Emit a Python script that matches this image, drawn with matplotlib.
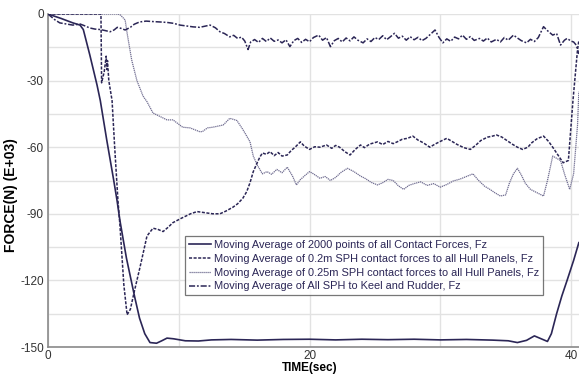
import matplotlib
matplotlib.use("Agg")
import matplotlib.pyplot as plt

plt.rcParams['font.family'] = ['Liberation Sans', 'DejaVu Sans']
plt.rcParams['axes.unicode_minus'] = False

# ---- data (time in sec, force in kN) ----
t_all = [0, 1.0, 1.9, 2.45, 2.7, 3.2, 3.75, 4.0, 4.5, 5.0, 5.28, 5.5, 6.0, 6.65, 7.0, 7.4, 7.8,
         8.3, 8.7, 9.1, 9.6, 10.5, 11.5, 12.5, 14, 16, 18, 20, 22, 24, 26, 28, 30, 32, 34,
         35.2, 35.9, 36.6, 37.2, 37.8, 38.2, 38.5, 38.9, 39.3, 39.7, 40.2, 40.6]
f_all = [0, -2, -4, -5, -7, -18.5, -32, -39, -57, -74, -84, -93, -110, -128, -137, -144, -148,
         -148.3, -147.2, -146, -146.3, -147.2, -147.3, -146.8, -146.6, -146.9, -146.6, -146.5,
         -146.8, -146.5, -146.7, -146.5, -146.8, -146.6, -146.9,
         -147.2, -148, -147, -145, -146.5, -147.5, -144, -135, -127, -120, -111, -103]

t_02 = [0, 4.05, 4.1, 4.3, 4.45, 4.5, 4.55, 4.65, 4.9, 5.1, 5.35, 5.5, 5.8, 6.05, 6.3, 6.6, 7.04,
        7.57, 8.03, 8.4, 8.8, 9.2, 9.55, 10.2, 10.9, 11.4, 12.0, 12.6, 13.15, 13.6, 14.15, 14.5,
        14.9, 15.2, 15.45, 15.7, 16.0, 16.2, 16.4, 16.7, 16.98, 17.3, 17.6, 17.9, 18.3, 18.6,
        18.9, 19.3, 19.6, 20.0, 20.4, 20.8, 21.3, 21.7, 22.0, 22.3, 22.7, 23.1, 23.5, 23.9,
        24.2, 24.6, 25.2, 25.6, 26.0, 26.4, 26.7, 27.1, 27.5, 27.9, 28.3, 28.7, 29.2, 29.6,
        30.0, 30.5, 30.9, 31.3, 31.8, 32.3, 32.7, 33.1, 33.6, 34.0, 34.3, 34.7, 35.1, 35.5,
        35.9, 36.3, 36.7, 37.0, 37.4, 37.9, 38.3, 38.6, 39.0, 39.4, 39.8, 40.15, 40.5, 40.6]
f_02 = [0, 0, -31, -26, -19, -25, -21, -30, -39, -60, -84, -95, -122, -135.5, -133, -125, -114,
        -100, -96.5, -97, -98, -96, -94, -92, -90, -89, -89.5, -90, -90, -88.8, -87, -85.5,
        -83, -80, -76, -71, -67, -64.5, -62.6, -63.2, -62, -63.8, -62.4, -64, -63.5, -61.5,
        -60, -57.6, -59.5, -61, -59.8, -60, -59, -60.5, -59.2, -60, -62, -63.5, -61, -59,
        -60.2, -58.6, -57.6, -58.8, -57.4, -58.4, -57.6, -56.4, -56, -55, -56.8, -58, -60, -58.6,
        -57.4, -56, -57.4, -58.8, -60.2, -61, -59.2, -57, -55.5, -55, -54.5, -55.4, -57, -58.6,
        -60, -61, -60, -58, -56.2, -55, -57.5, -60, -63.5, -67, -66, -39, -16, -12]

t_025 = [0, 5.35, 5.55, 5.9, 6.05, 6.4, 6.8, 7.27, 7.57, 8.03, 8.34, 9.1, 9.56, 10.3, 10.86,
         11.6, 11.8, 12.2, 12.6, 13.0, 13.4, 13.9, 14.2, 14.45, 14.9, 15.2, 15.45, 15.7, 16.0,
         16.2, 16.4, 16.75, 17.1, 17.5, 17.9, 18.3, 18.7, 19.0, 19.3, 19.7, 20.0, 20.3, 20.8,
         21.2, 21.6, 22.0, 22.4, 22.9, 23.4, 23.9, 24.3, 24.7, 25.2, 25.6, 26.0, 26.4, 26.8,
         27.2, 27.6, 28.0, 28.5, 29.0, 29.5, 30.0, 30.5, 31.0, 31.5, 32.0, 32.5, 32.9, 33.4,
         33.8, 34.2, 34.6, 35.0, 35.3, 35.6, 35.9, 36.2, 36.5, 36.9, 37.4, 37.9, 38.2, 38.6,
         38.9, 39.2, 39.5, 39.9, 40.2, 40.5, 40.6]
f_025 = [0, 0, -0.5, -2.7, -8.6, -20.7, -30, -37, -39.5, -44.6, -45.5, -47.7, -47.7, -51, -51.3,
         -53, -53, -51.3, -51, -50.5, -50, -47, -47.5, -48, -52, -55, -57.6, -64, -68,
         -70, -72, -71, -72.2, -70, -71.5, -69, -73, -77, -74.6, -72.5, -71, -72, -74,
         -73.2, -75, -73.6, -71.4, -69.5, -71, -73, -74.2, -75.8, -77, -76, -74.5, -75, -77.4,
         -79, -77.2, -76.4, -75.6, -77.2, -76.4, -78, -76.8, -75.2, -74.4, -73.2, -72, -74.8, -77.6,
         -79, -80.6, -82, -81.5, -76, -72, -69.5, -72.5, -76.2, -79, -80.5, -82, -75, -64,
         -65, -66, -72, -79, -72, -50, -35]

t_keel = [0.0, 0.5, 0.9, 1.4, 1.9, 2.45, 2.8, 3.2, 3.6, 4.0, 4.4, 4.75, 5.05, 5.3, 5.6, 5.9, 6.3,
          6.6, 7.0, 7.5, 8.0, 8.6, 9.1, 9.6, 10.1, 10.6, 11.1, 11.6, 12.0, 12.4, 12.8, 13.15,
          13.5, 13.9, 14.2, 14.5, 14.8, 15.05, 15.3, 15.5, 15.8, 16.1, 16.4, 16.7, 17.0, 17.3,
          17.6, 17.9, 18.2, 18.5, 18.8, 19.1, 19.4, 19.7, 20.0, 20.3, 20.7, 21.0, 21.3, 21.6,
          21.9, 22.2, 22.5, 22.8, 23.1, 23.4, 23.7, 24.1, 24.4, 24.7, 25.0, 25.3, 25.6, 25.9,
          26.2, 26.5, 26.8, 27.1, 27.4, 27.7, 28.0, 28.3, 28.6, 28.9, 29.2, 29.6, 29.9, 30.2,
          30.5, 30.8, 31.1, 31.4, 31.7, 32.0, 32.3, 32.6, 33.0, 33.3, 33.6, 33.9, 34.3, 34.6,
          34.9, 35.2, 35.6, 35.9, 36.2, 36.6, 36.9, 37.2, 37.5, 37.9, 38.2, 38.6, 38.9, 39.2,
          39.5, 39.7, 40.0, 40.2, 40.4, 40.6]
f_keel = [0, -2.5, -4, -4.5, -5, -4.5, -5.3, -6.3, -6.8, -7, -7.5, -8, -7.2, -6, -6.5, -7.2, -6,
          -4.6, -3.6, -3.2, -3.4, -3.6, -3.8, -4.2, -5, -5.4, -5.8, -6, -5.5, -5, -6.2, -8,
          -8.8, -10.3, -9.6, -11, -10.4, -12.2, -16, -12.6, -11.5, -12.8, -11, -12.4, -10.8, -12.3,
          -11.7, -13, -11.6, -14.7, -12, -11, -12.8, -11.4, -12.5, -10.6, -9.5, -11.8, -10.6, -14.7,
          -12, -11, -12.6, -10.8, -12.1, -10.3, -11.8, -13, -11.2, -12.4, -10.6, -11.5, -9.8, -11.6,
          -10.2, -8.7, -10.9, -10, -11.8, -10.2, -11.6, -10.5, -12, -11, -9.4, -7.2, -10.5, -13,
          -11.2, -12.3, -10.4, -11.2, -9.5, -11.4, -10.2, -11.9, -11, -12.2, -10.8, -12.6, -11.4, -12.6,
          -10.6, -11.8, -9.5, -10.8, -12, -13, -11.4, -12.4, -10.6, -5.7, -7.5, -9.5, -8.8, -14,
          -11.8, -11, -12.2, -12.6, -14, -18]

labels = ["Moving Average of 2000 points of all Contact Forces, Fz",
          "Moving Average of 0.2m SPH contact forces to all Hull Panels, Fz",
          "Moving Average of 0.25m SPH contact forces to all Hull Panels, Fz",
          "Moving Average of All SPH to Keel and Rudder, Fz"]

x_ticks = [0, 20, 40]
y_ticks = [0, -30, -60, -90, -120, -150]

# ---- figure ----
fig = plt.figure(figsize=(5.79, 3.75), dpi=100)
ax = fig.add_axes([48 / 579, 1 - 347 / 375, 1 - 48 / 579, 333 / 375])

dark = '#2b2656'
ax.plot(t_all, f_all, color=dark, lw=1.2, ls='-', label=labels[0], zorder=4)
ax.plot(t_02, f_02, color=dark, lw=1.1, ls=(0, (2, 1)), label=labels[1], zorder=4)
ax.plot(t_025, f_025, color='#6f6c90', lw=0.9, ls=(0, (1, 0.6)), label=labels[2], zorder=3)
ax.plot(t_keel, f_keel, color=dark, lw=1.1, ls=(0, (4, 1.2, 1.2, 1.2)), label=labels[3], zorder=4)

ax.set_xlim(0, 531 / 13.075)
ax.set_ylim(-150, 0)
ax.set_xticks(x_ticks)
ax.set_xticks([10, 30], minor=True)
ax.set_yticks(y_ticks)
ax.set_yticks([-15, -45, -75, -105, -135], minor=True)
ax.grid(True, which='both', color='#e2e2e2', lw=1.0, zorder=0)
ax.tick_params(which='both', length=0, labelsize=8.5, colors='#333333', pad=3)
ax.tick_params(axis='x', pad=2)
for s in ['top', 'right']:
    ax.spines[s].set_visible(False)
for s in ['left', 'bottom']:
    ax.spines[s].set_color('#8a8a8a')
    ax.spines[s].set_linewidth(1.2)

ax.set_xlabel('TIME(sec)', fontsize=8.5, fontweight='bold')
ax.xaxis.set_label_coords((310 - 48) / 531, (347 - 362) / 333)
ax.set_ylabel('FORCE(N) (E+03)', fontsize=10, fontweight='bold')
ax.yaxis.set_label_coords((18 - 48) / 531, (347 - 195) / 333)

leg = ax.legend(loc='upper left', bbox_to_anchor=((185 - 48) / 531, (347 - 236) / 333),
                fontsize=7.95, frameon=True, fancybox=False, handlelength=2.0,
                handletextpad=0.3, borderpad=0.35, labelspacing=0.35, borderaxespad=0)
leg.get_frame().set_edgecolor('#555555')
leg.get_frame().set_linewidth(0.9)
for txt in leg.get_texts():
    txt.set_color('#2b2656')

fig.savefig('out.png', dpi=100)
